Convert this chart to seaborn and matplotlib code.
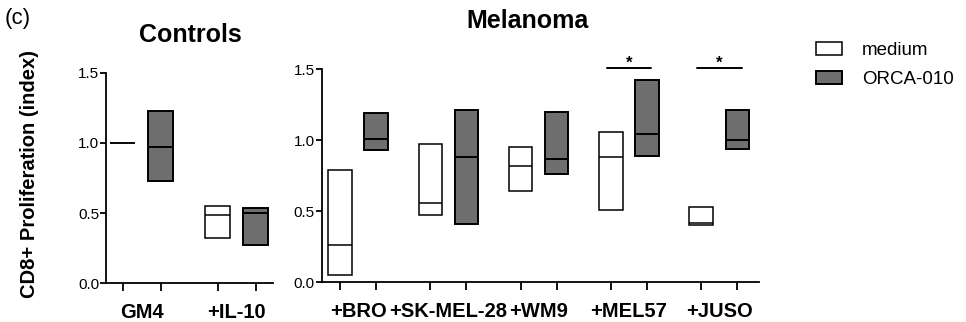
import numpy as np
import matplotlib
matplotlib.use("Agg")
import matplotlib.pyplot as plt
from matplotlib.patches import Patch
import seaborn as sns

# ── Data: min / median / max of the CD8+ proliferation index ──
ctrl_groups = ["GM4", "+IL-10"]
ctrl_medium_lo = [1.00, 0.32]
ctrl_medium_mid = [1.00, 0.49]
ctrl_medium_hi = [1.00, 0.55]
ctrl_orca_lo = [0.73, 0.27]
ctrl_orca_mid = [0.97, 0.50]
ctrl_orca_hi = [1.23, 0.54]

mel_groups = ["+BRO", "+SK-MEL-28", "+WM9", "+MEL57", "+JUSO"]
mel_medium_lo = [0.05, 0.47, 0.64, 0.51, 0.40]
mel_medium_mid = [0.26, 0.56, 0.82, 0.88, 0.42]
mel_medium_hi = [0.79, 0.97, 0.95, 1.06, 0.53]
mel_orca_lo = [0.93, 0.41, 0.76, 0.89, 0.94]
mel_orca_mid = [1.01, 0.88, 0.87, 1.04, 1.00]
mel_orca_hi = [1.19, 1.21, 1.20, 1.42, 1.21]

sig_groups = ["+MEL57", "+JUSO"]
sig_level = 1.51

y_ticks = [0.0, 0.5, 1.0, 1.5]
legend_labels = ["medium", "ORCA-010"]

# ── Style ──
ORCA_GREY = "#6e6e6e"
BAR_W = 0.65
GROUP_STEP = 2.5

sns.set_theme(style="ticks")
plt.rcParams["font.family"] = ["Liberation Sans", "DejaVu Sans"]
plt.rcParams.update({"text.color": "black", "axes.labelcolor": "black",
                     "xtick.color": "black", "ytick.color": "black",
                     "axes.edgecolor": "black"})

fig = plt.figure(figsize=(9.66, 3.22), dpi=100)
ax_c = fig.add_axes([0.1097, 0.120, 0.1729, 0.654])
ax_m = fig.add_axes([0.333, 0.1233, 0.4527, 0.6624])


def draw_panel(ax, groups, m_lo, m_mid, m_hi, o_lo, o_mid, o_hi, xlim):
    pos = np.arange(len(groups)) * GROUP_STEP
    x_med = pos
    x_orc = pos + 1
    ax.bar(x_med, np.subtract(m_hi, m_lo), bottom=m_lo, width=BAR_W,
           color="white", edgecolor="black", linewidth=1.1, zorder=2)
    ax.bar(x_orc, np.subtract(o_hi, o_lo), bottom=o_lo, width=BAR_W,
           color=ORCA_GREY, edgecolor="black", linewidth=1.4, zorder=2)
    ax.hlines(m_mid, x_med - BAR_W / 2, x_med + BAR_W / 2,
              color="black", lw=1.1, zorder=3)
    ax.hlines(o_mid, x_orc - BAR_W / 2, x_orc + BAR_W / 2,
              color="black", lw=1.4, zorder=3)

    ax.set_xlim(*xlim)
    ax.set_ylim(0, 1.5)
    ax.set_yticks(y_ticks)
    ax.set_yticklabels([f"{t:.1f}" for t in y_ticks])
    ax.set_xticks(np.sort(np.concatenate([x_med, x_orc])))
    ax.set_xticklabels([])
    ax.set_xticks(pos + 0.5, labels=groups, minor=True)
    ax.tick_params(axis="x", which="major", length=6, width=1.3)
    ax.tick_params(axis="x", which="minor", length=0, pad=14, labelsize=14.5)
    ax.tick_params(axis="y", length=4, width=1.3, pad=1, labelsize=11)
    for lbl in ax.get_xticklabels(minor=True):
        lbl.set_fontweight("bold")
    sns.despine(ax=ax)
    for side in ["left", "bottom"]:
        ax.spines[side].set_linewidth(1.3)
    ax.set_facecolor("white")
    return pos


draw_panel(ax_c, ctrl_groups, ctrl_medium_lo, ctrl_medium_mid, ctrl_medium_hi,
           ctrl_orca_lo, ctrl_orca_mid, ctrl_orca_hi, (-0.44, 3.96))
mel_pos = draw_panel(ax_m, mel_groups, mel_medium_lo, mel_medium_mid, mel_medium_hi,
                     mel_orca_lo, mel_orca_mid, mel_orca_hi, (-0.51, 11.6))

# significance brackets
for g in sig_groups:
    c = mel_pos[mel_groups.index(g)] + 0.5
    ax_m.plot([c - 0.62, c + 0.62], [sig_level, sig_level], color="black",
              lw=1.4, clip_on=False)
    ax_m.text(c, sig_level - 0.025, "*", ha="center", va="bottom",
              fontsize=12, fontweight="bold", clip_on=False)

# titles and labels
fig.text(190 / 966, 1 - 41.7 / 322, "Controls", ha="center", va="baseline",
         fontsize=18, fontweight="bold")
fig.text(528 / 966, 1 - 28.3 / 322, "Melanoma", ha="center", va="baseline",
         fontsize=18, fontweight="bold")
fig.text(5 / 966, 1 - 8 / 322, "(c)", ha="left", va="top", fontsize=16)
fig.text(29.5 / 966, 1 - 174.5 / 322, "CD8+ Proliferation (index)",
         rotation=90, ha="center", va="center", fontsize=14.5, fontweight="bold")

# legend
handles = [Patch(facecolor="white", edgecolor="black", linewidth=1.1),
           Patch(facecolor=ORCA_GREY, edgecolor="black", linewidth=1.4)]
fig.legend(handles, legend_labels, loc="upper left",
           bbox_to_anchor=(816 / 966, 1 - 42 / 322), frameon=False,
           fontsize=13.5, handlelength=1.39, handleheight=0.69,
           handletextpad=1.07, labelspacing=0.62, borderpad=0, borderaxespad=0)

fig.savefig("out.png", dpi=100)
